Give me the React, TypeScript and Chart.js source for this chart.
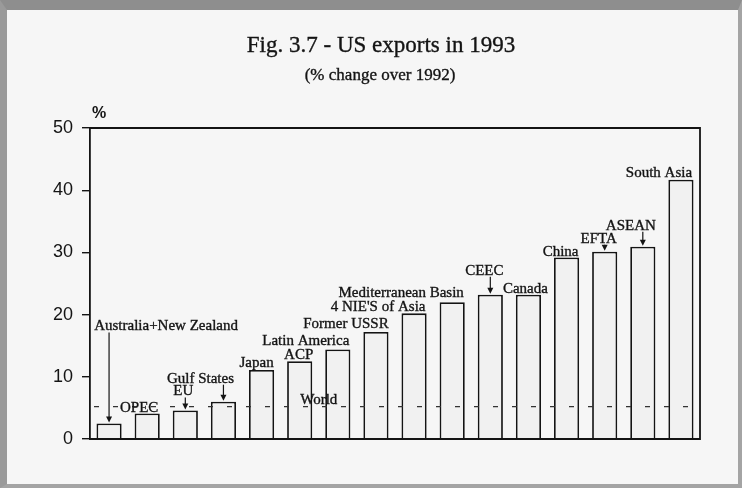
import React, { useEffect, useRef } from 'react';
import { Chart, registerables } from 'chart.js';

Chart.register(...registerables);

// ---- data ----
const categories = [
  'Australia+New Zealand',
  'OPEC',
  'EU',
  'Gulf States',
  'Japan',
  'ACP',
  'Latin America',
  'Former USSR',
  "4 NIE'S of Asia",
  'Mediterranean Basin',
  'CEEC',
  'Canada',
  'China',
  'EFTA',
  'ASEAN',
  'South Asia',
];
const exportChange = [2.5, 4.1, 4.6, 6.0, 11.1, 12.5, 14.4, 17.2, 20.2, 22.0, 23.2, 23.2, 29.2, 30.1, 30.9, 41.7];
const worldChange = 5.2;
const worldLabel = 'World';
const yTicks = [0, 10, 20, 30, 40, 50];
const titleText = 'Fig. 3.7 - US exports in 1993';
const subtitleText = '(% change over 1992)';
const yUnit = '%';

// ---- label layout (pixel offsets relative to each bar) ----
const labelDx = [57, -8, -2, -23, -5, -1, -32, -30, -36, -51, -6, -3, -6, -6, -12, -22];
const labelDy = [93, 1, 15, 19, 3, 2, 4, 4, 2, 5, 20, 2, 1, 9, 17, 3];
const labelArrow = [true, false, true, true, false, false, false, false, false, false, true, false, false, true, true, false];

const SERIF = '"Liberation Serif", "Times New Roman", serif';
const SANS = '"Liberation Sans", Arial, sans-serif';
const INK = '#141414';

function heavyText(ctx: CanvasRenderingContext2D, text: string, x: number, y: number) {
  ctx.fillText(text, x, y);
  ctx.lineWidth = 0.35;
  ctx.strokeStyle = INK;
  ctx.strokeText(text, x, y);
}

const annotationPlugin = {
  id: 'annotations',
  afterDraw(chart: any) {
    const ctx = chart.ctx as CanvasRenderingContext2D;
    const area = chart.chartArea;
    const x = chart.scales.x;
    const y = chart.scales.y;
    ctx.save();

    // frame (top, right, bottom)
    ctx.strokeStyle = INK;
    ctx.lineWidth = 1.8;
    ctx.beginPath();
    ctx.moveTo(area.left, area.top);
    ctx.lineTo(area.right, area.top);
    ctx.lineTo(area.right, area.bottom);
    ctx.lineTo(area.left - 1, area.bottom);
    ctx.stroke();

    // world dashed line
    const wy = y.getPixelForValue(worldChange);
    ctx.setLineDash([5, 14]);
    ctx.lineWidth = 1.2;
    ctx.strokeStyle = '#333';
    ctx.beginPath();
    ctx.moveTo(area.left + 4, wy);
    ctx.lineTo(area.right, wy);
    ctx.stroke();
    ctx.setLineDash([]);

    ctx.fillStyle = INK;
    ctx.font = `15px ${SERIF}`;
    ctx.textAlign = 'center';
    ctx.textBaseline = 'alphabetic';
    heavyText(ctx, worldLabel, x.getPixelForValue(5.5), wy - 3);

    // bar labels + arrows
    const meta = chart.getDatasetMeta(0);
    meta.data.forEach((bar: any, i: number) => {
      const cx = bar.x;
      const top = bar.y;
      const baseY = top - labelDy[i];
      ctx.fillStyle = INK;
      ctx.font = `15px ${SERIF}`;
      ctx.textAlign = 'center';
      heavyText(ctx, categories[i], cx + labelDx[i], baseY);
      if (labelArrow[i]) {
        ctx.strokeStyle = INK;
        ctx.lineWidth = 1.2;
        ctx.beginPath();
        ctx.moveTo(cx, baseY + 2);
        ctx.lineTo(cx, top - 4);
        ctx.stroke();
        ctx.beginPath();
        ctx.moveTo(cx - 3, top - 7);
        ctx.lineTo(cx + 3, top - 7);
        ctx.lineTo(cx, top - 1);
        ctx.closePath();
        ctx.fill();
      }
    });

    // title, subtitle, unit
    ctx.fillStyle = INK;
    ctx.textAlign = 'center';
    ctx.font = `23px ${SERIF}`;
    heavyText(ctx, titleText, 381, 52);
    ctx.font = `17px ${SERIF}`;
    heavyText(ctx, subtitleText, 380, 80);
    ctx.font = `bold 16px ${SANS}`;
    ctx.textAlign = 'left';
    ctx.fillText(yUnit, 92, 118);

    ctx.restore();
  },
};

export default function App() {
  const ref = useRef<HTMLCanvasElement>(null);

  useEffect(() => {
    const canvas = ref.current;
    if (!canvas) return;
    const chart = new Chart(canvas, {
      type: 'bar',
      data: {
        labels: categories,
        datasets: [
          {
            data: exportChange,
            backgroundColor: '#f1f1f1',
            borderColor: INK,
            borderWidth: 1.8,
            borderSkipped: 'start',
            barPercentage: 0.66,
            categoryPercentage: 1,
          },
        ],
      },
      options: {
        responsive: false,
        animation: false,
        devicePixelRatio: 1,
        layout: { padding: { top: 128, right: 42, bottom: 49, left: 0 } },
        plugins: {
          legend: { display: false },
          tooltip: { enabled: false },
          title: { display: false },
        },
        scales: {
          x: { display: false, offset: true },
          y: {
            min: 0,
            max: 50,
            afterBuildTicks: (s: any) => {
              s.ticks = yTicks.map((v) => ({ value: v }));
            },
            afterFit: (s: any) => {
              s.width = 90;
            },
            ticks: {
              color: INK,
              padding: 9,
              font: { family: SANS, size: 18 },
            },
            grid: {
              drawOnChartArea: false,
              drawTicks: true,
              tickLength: 8,
              color: INK,
              lineWidth: 1.4,
            },
            border: { display: true, color: INK, width: 1.8 },
          },
        },
      },
      plugins: [annotationPlugin],
    } as any);
    return () => chart.destroy();
  }, []);

  return (
    <div
      style={{
        position: 'absolute',
        left: 0,
        top: 0,
        width: 742,
        height: 488,
        boxSizing: 'border-box',
        background: '#f6f6f6',
        borderTop: '10px solid #8e8e8e',
        borderLeft: '7px solid #9a9a9a',
        borderRight: '4px solid #a4a4a4',
        borderBottom: '4px solid #a4a4a4',
      }}
    >
      <canvas
        ref={ref}
        width={742}
        height={488}
        style={{ position: 'absolute', left: -7, top: -10, width: 742, height: 488 }}
      />
    </div>
  );
}
